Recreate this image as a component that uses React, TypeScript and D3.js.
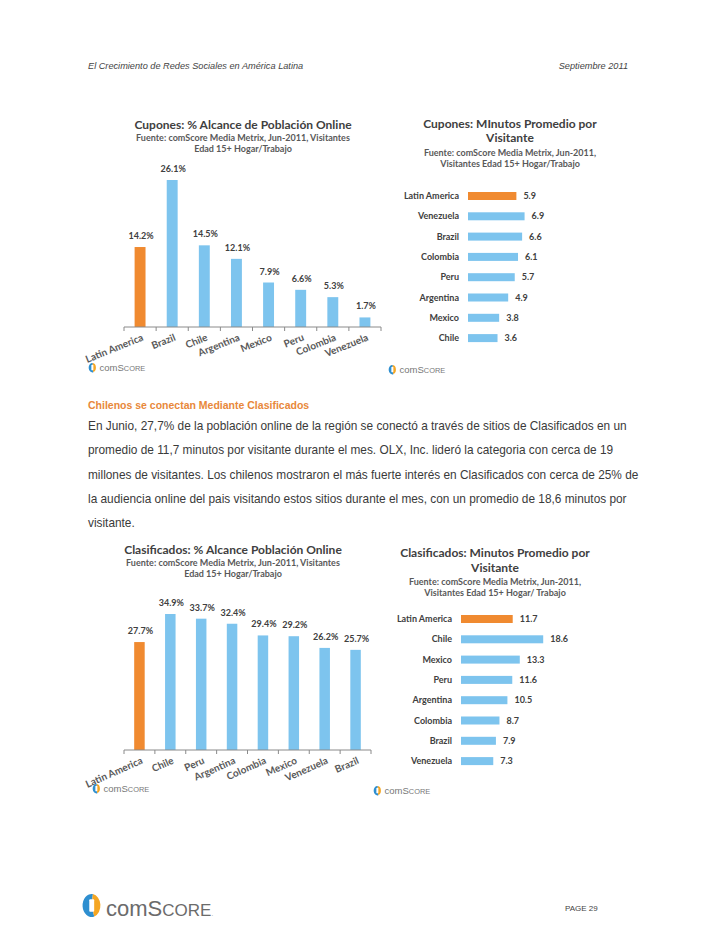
import React from 'react';
import * as d3 from 'd3';

const cuponesReachCats = ['Latin America', 'Brazil', 'Chile', 'Argentina', 'Mexico', 'Peru', 'Colombia', 'Venezuela'];
const cuponesReachVals = [14.2, 26.1, 14.5, 12.1, 7.9, 6.6, 5.3, 1.7];
const cuponesMinCats = ['Latin America', 'Venezuela', 'Brazil', 'Colombia', 'Peru', 'Argentina', 'Mexico', 'Chile'];
const cuponesMinVals = [5.9, 6.9, 6.6, 6.1, 5.7, 4.9, 3.8, 3.6];
const clasifReachCats = ['Latin America', 'Chile', 'Peru', 'Argentina', 'Colombia', 'Mexico', 'Venezuela', 'Brazil'];
const clasifReachVals = [27.7, 34.9, 33.7, 32.4, 29.4, 29.2, 26.2, 25.7];
const clasifMinCats = ['Latin America', 'Chile', 'Mexico', 'Peru', 'Argentina', 'Colombia', 'Brazil', 'Venezuela'];
const clasifMinVals = [11.7, 18.6, 13.3, 11.6, 10.5, 8.7, 7.9, 7.3];

const paragraphLines = [
  'En Junio, 27,7% de la población online de la región se conectó a través de sitios de Clasificados en un',
  'promedio de 11,7 minutos por visitante durante el mes. OLX, Inc. lideró la categoria con cerca de 19',
  'millones de visitantes. Los chilenos mostraron el más fuerte interés en Clasificados con cerca de 25% de',
  'la audiencia online del pais visitando estos sitios durante el mes, con un promedio de 18,6 minutos por',
  'visitante.',
];

const ORANGE = '#F08A30';
const BLUE = '#7DC4EE';
const DARK = '#404040';
const CHART_FONT = 'Lato, "Open Sans", sans-serif';
const TEXT_FONT = '"Liberation Sans", Arial, sans-serif';

function LogoIcon({ cx, cy, r }: { cx: number; cy: number; r: number }) {
  const arcL = d3.arc()({ innerRadius: 0, outerRadius: r, startAngle: Math.PI * 0.9, endAngle: Math.PI * 2.05 } as any) || '';
  const arcR = d3.arc()({ innerRadius: 0, outerRadius: r, startAngle: Math.PI * 0.05, endAngle: Math.PI * 0.9 } as any) || '';
  return (
    <g transform={`translate(${cx},${cy}) scale(0.85,1.1)`}>
      <path d={arcL} fill="#2E8FD0" />
      <path d={arcR} fill="#F5A623" />
      <rect x={-r * 0.25} y={-r * 0.55} width={r * 0.55} height={r * 1.1} rx={r * 0.1} fill="#fff" />
    </g>
  );
}

function SmallLogo({ x, y, size = 9.5 }: { x: number; y: number; size?: number }) {
  const r = size * 0.45;
  return (
    <g>
      <LogoIcon cx={x + r} cy={y - size * 0.35} r={r} />
      <text x={x + r * 2 + 3} y={y} fontFamily={TEXT_FONT} fontSize={size} fill="#777">
        com<tspan>S</tspan><tspan fontSize={size * 0.78}>CORE</tspan>
      </text>
    </g>
  );
}

type VProps = {
  cats: string[];
  vals: number[];
  x0: number;
  x1: number;
  axisY: number;
  topY: number;
  angle: number;
};

function VerticalBars({ cats, vals, x0, x1, axisY, topY, angle }: VProps) {
  const x = d3.scaleBand<string>().domain(cats).range([x0, x1]).padding(0);
  const maxV = d3.max(vals) as number;
  const y = d3.scaleLinear().domain([0, maxV]).range([axisY, topY]);
  const bw = x.bandwidth() * 0.34;
  const ticks = d3.range(cats.length + 1).map((i) => x0 + i * x.step());
  return (
    <g>
      {cats.map((c, i) => {
        const cx = (x(c) as number) + x.bandwidth() / 2;
        return (
          <g key={c}>
            <rect x={cx - bw / 2} y={y(vals[i])} width={bw} height={axisY - y(vals[i])} fill={i === 0 ? ORANGE : BLUE} />
            <text x={cx + 1} y={y(vals[i]) - 8} textAnchor="middle" fontFamily={CHART_FONT} fontWeight={700} fontSize={9} fill={DARK}>
              {vals[i].toFixed(1)}%
            </text>
            <text
              transform={`translate(${cx + 4},${axisY + 13}) rotate(${angle})`}
              textAnchor="end"
              fontFamily={CHART_FONT}
              fontWeight={700}
              fontSize={10}
              fill="#595959"
            >
              {c}
            </text>
          </g>
        );
      })}
      <line x1={x0} x2={x1} y1={axisY} y2={axisY} stroke="#8a8a8a" strokeWidth={1} />
      {ticks.map((t, i) => (
        <line key={i} x1={t} x2={t} y1={axisY} y2={axisY + 4} stroke="#8a8a8a" strokeWidth={1} />
      ))}
    </g>
  );
}

type HProps = {
  cats: string[];
  vals: number[];
  labelX: number;
  barX: number;
  pxPerUnit: number;
  y0: number;
  step: number;
};

function HorizontalBars({ cats, vals, labelX, barX, pxPerUnit, y0, step }: HProps) {
  const maxV = d3.max(vals) as number;
  const x = d3.scaleLinear().domain([0, maxV]).range([barX, barX + maxV * pxPerUnit]);
  const y = d3.scalePoint<string>().domain(cats).range([y0, y0 + step * (cats.length - 1)]);
  const bh = 8;
  return (
    <g>
      {cats.map((c, i) => {
        const cy = y(c) as number;
        return (
          <g key={c}>
            <text x={labelX} y={cy + 3} textAnchor="end" fontFamily={CHART_FONT} fontWeight={700} fontSize={9} fill={DARK}>
              {c}
            </text>
            <rect x={barX} y={cy - bh / 2} width={x(vals[i]) - barX} height={bh} fill={i === 0 ? ORANGE : BLUE} />
            <text x={x(vals[i]) + 7} y={cy + 3} fontFamily={CHART_FONT} fontWeight={700} fontSize={9} fill={DARK}>
              {vals[i].toFixed(1)}
            </text>
          </g>
        );
      })}
    </g>
  );
}

function Title({ x, lines }: { x: number; lines: { y: number; text: string; big?: boolean }[] }) {
  return (
    <g>
      {lines.map((l, i) => (
        <text
          key={i}
          x={x}
          y={l.y}
          textAnchor="middle"
          fontFamily={CHART_FONT}
          fontWeight={700}
          fontSize={l.big ? 12 : 9}
          fill={l.big ? DARK : '#595959'}
        >
          {l.text}
        </text>
      ))}
    </g>
  );
}

export default function App() {
  return (
    <svg width={728} height={942} style={{ position: 'absolute', left: 0, top: 0, background: '#fff' }}>
      <rect width={728} height={942} fill="#fff" />
      {/* header */}
      <text x={88} y={69} fontFamily={TEXT_FONT} fontStyle="italic" fontSize={9.2} fill="#444">
        El Crecimiento de Redes Sociales en América Latina
      </text>
      <text x={628} y={69} textAnchor="end" fontFamily={TEXT_FONT} fontStyle="italic" fontSize={9.2} fill="#444">
        Septiembre 2011
      </text>

      {/* Top-left */}
      <Title
        x={243}
        lines={[
          { y: 129, text: 'Cupones: %  Alcance de Población Online', big: true },
          { y: 141, text: 'Fuente: comScore Media Metrix, Jun-2011, Visitantes' },
          { y: 152, text: 'Edad 15+  Hogar/Trabajo' },
        ]}
      />
      <VerticalBars cats={cuponesReachCats} vals={cuponesReachVals} x0={124} x1={381} axisY={327} topY={180} angle={-22} />
      <SmallLogo x={88} y={371} />

      {/* Top-right */}
      <Title
        x={510}
        lines={[
          { y: 128, text: 'Cupones: MInutos Promedio por', big: true },
          { y: 142, text: 'Visitante', big: true },
          { y: 156, text: 'Fuente: comScore Media Metrix, Jun-2011,' },
          { y: 167, text: 'Visitantes Edad 15+ Hogar/Trabajo' },
        ]}
      />
      <HorizontalBars cats={cuponesMinCats} vals={cuponesMinVals} labelX={459} barX={468} pxPerUnit={8.2} y0={196} step={20.3} />
      <SmallLogo x={388} y={373} />

      {/* Paragraph */}
      <text x={88} y={409} fontFamily={TEXT_FONT} fontWeight={700} fontSize={10.5} fill="#E8883A">
        Chilenos se conectan Mediante Clasificados
      </text>
      {paragraphLines.map((l, i) => (
        <text key={i} x={88} y={430 + i * 24.3} fontFamily={TEXT_FONT} fontSize={11.85} fill="#3a3a3a">
          {l}
        </text>
      ))}

      {/* Bottom-left */}
      <Title
        x={233}
        lines={[
          { y: 554, text: 'Clasificados: % Alcance Población Online', big: true },
          { y: 566, text: 'Fuente: comScore Media Metrix, Jun-2011, Visitantes' },
          { y: 577, text: 'Edad 15+ Hogar/Trabajo' },
        ]}
      />
      <VerticalBars cats={clasifReachCats} vals={clasifReachVals} x0={124} x1={371} axisY={750} topY={614} angle={-24} />
      <SmallLogo x={92} y={792} />

      {/* Bottom-right */}
      <Title
        x={495}
        lines={[
          { y: 557, text: 'Clasificados: Minutos Promedio por', big: true },
          { y: 572, text: 'Visitante', big: true },
          { y: 585, text: 'Fuente: comScore Media Metrix, Jun-2011,' },
          { y: 596, text: 'Visitantes Edad 15+ Hogar/ Trabajo' },
        ]}
      />
      <HorizontalBars cats={clasifMinCats} vals={clasifMinVals} labelX={452} barX={461} pxPerUnit={4.42} y0={619} step={20.3} />
      <SmallLogo x={373} y={794} />

      {/* Footer */}
      <LogoIcon cx={91.5} cy={905.5} r={10.5} />
      <text x={106} y={916} fontFamily={TEXT_FONT} fontSize={22} fill="#6b6b6b">
        com<tspan>S</tspan><tspan fontSize={17}>CORE</tspan><tspan fontSize={6}>.</tspan>
      </text>
      <text x={565} y={911} fontFamily={TEXT_FONT} fontSize={8} fill="#444">
        PAGE 29
      </text>
    </svg>
  );
}
